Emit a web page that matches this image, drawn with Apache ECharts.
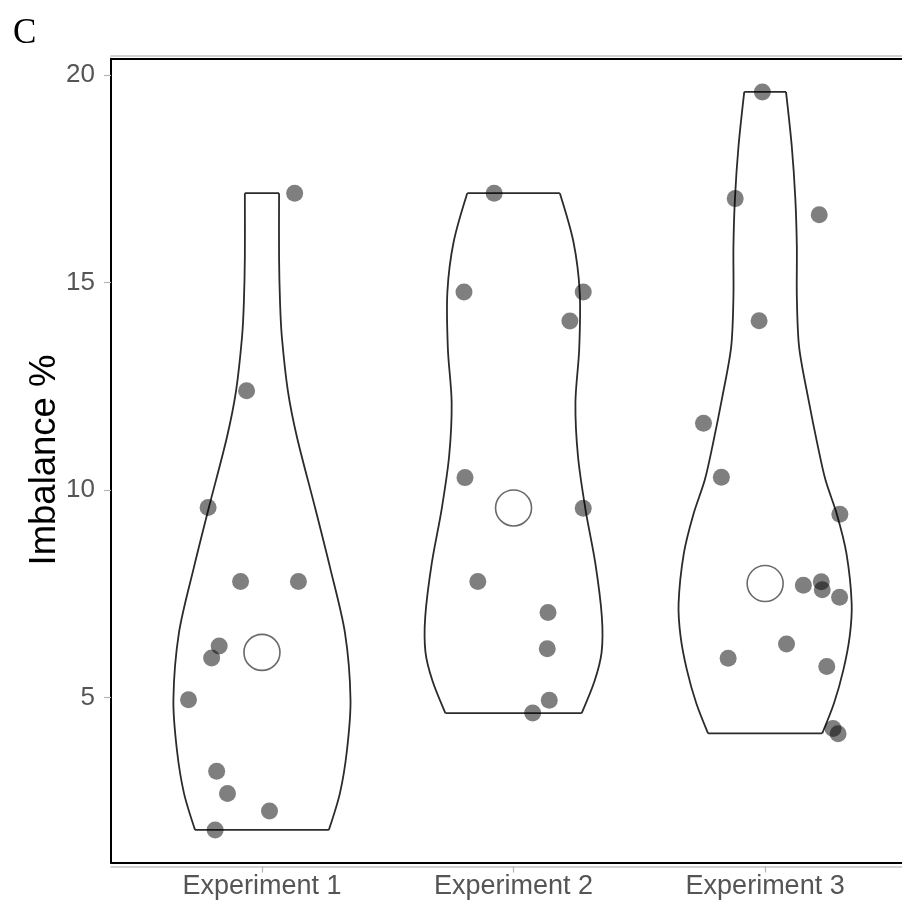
<!DOCTYPE html>
<html>
<head>
<meta charset="utf-8">
<script src="https://cdn.jsdelivr.net/npm/echarts@6/dist/echarts.min.js"></script>
<style>
  html, body { margin: 0; padding: 0; background: #ffffff; }
  #chart { width: 902px; height: 910px; }
</style>
</head>
<body>
<div id="chart"></div>
<script>
// ---------- data ----------
const categories = ['Experiment 1', 'Experiment 2', 'Experiment 3'];
const yTickValues = [5, 10, 15, 20];
const xTickValues = [1, 2, 3];
const yTitle = 'Imbalance %';
const panelTag = 'C';

// violin outlines: y levels and half-widths (x-axis units)
const violin1Levels = [1.815, 2.70, 3.74, 4.95, 6.56, 8.15, 9.58, 11.28, 12.39, 13.70, 14.50, 15.60, 17.15];
const violin1Half   = [0.266, 0.310, 0.338, 0.352, 0.330, 0.270, 0.211, 0.139, 0.103, 0.079, 0.072, 0.068, 0.068];

const violin2Levels = [4.63, 5.40, 6.09, 6.95, 8.24, 9.53, 10.82, 12.11, 13.40, 14.77, 15.98, 17.15];
const violin2Half   = [0.271, 0.322, 0.350, 0.351, 0.325, 0.286, 0.256, 0.246, 0.261, 0.263, 0.238, 0.184];

const violin3Levels = [4.14, 4.87, 5.67, 6.47, 7.27, 8.48, 9.42, 10.24, 11.04, 12.25, 13.45, 14.66, 15.86, 17.02, 18.27, 19.59];
const violin3Half   = [0.227, 0.274, 0.311, 0.336, 0.344, 0.323, 0.285, 0.240, 0.210, 0.170, 0.135, 0.126, 0.126, 0.120, 0.106, 0.083];

// jittered points: x position and value
const exp1X = [1.130, 0.939, 0.786, 0.915, 1.145, 0.830, 0.800, 0.708, 0.820, 0.863, 1.030, 0.814];
const exp1Y = [17.15, 12.39, 9.58, 7.80, 7.80, 6.245, 5.956, 4.95, 3.228, 2.69, 2.27, 1.815];

const exp2X = [1.923, 1.803, 2.277, 2.224, 1.807, 2.277, 1.858, 2.137, 2.134, 2.142, 2.076];
const exp2Y = [17.15, 14.77, 14.77, 14.07, 10.30, 9.56, 7.80, 7.05, 6.18, 4.94, 4.63];

const exp3X = [2.989, 2.881, 3.215, 2.976, 2.755, 2.826, 3.297, 3.152, 3.223, 3.227, 3.296, 3.085, 2.853, 3.245, 3.270, 3.290];
const exp3Y = [19.59, 17.02, 16.63, 14.08, 11.61, 10.31, 9.42, 7.71, 7.79, 7.60, 7.42, 6.29, 5.95, 5.75, 4.26, 4.13];

const medians = [6.09, 9.57, 7.75];

// ---------- build ----------
const violinLevels = [violin1Levels, violin2Levels, violin3Levels];
const violinHalf = [violin1Half, violin2Half, violin3Half];

function pts(xs, ys) { return xs.map((x, i) => [x, ys[i]]); }
const pointData = [].concat(pts(exp1X, exp1Y), pts(exp2X, exp2Y), pts(exp3X, exp3Y));
const medianData = medians.map((m, i) => [i + 1, m]);

const LINE = '#2b2b2b';
const X_MIN = 0.4, X_MAX = 3.544;
const FONT = '"Liberation Sans", Arial, sans-serif';

function renderViolin(params, api) {
  const idx = api.value(0);
  const center = idx + 1;
  const lv = violinLevels[idx];
  const hw = violinHalf[idx];
  const left = lv.map((y, i) => api.coord([center - hw[i], y]));
  const right = lv.map((y, i) => api.coord([center + hw[i], y]));
  const n = lv.length - 1;
  const st = { stroke: LINE, lineWidth: 1.8, fill: null };
  return {
    type: 'group',
    children: [
      { type: 'polyline', shape: { points: left, smooth: 0.3 }, style: st },
      { type: 'polyline', shape: { points: right, smooth: 0.3 }, style: st },
      { type: 'line', shape: { x1: left[0][0], y1: left[0][1], x2: right[0][0], y2: right[0][1] }, style: st },
      { type: 'line', shape: { x1: left[n][0], y1: left[n][1], x2: right[n][0], y2: right[n][1] }, style: st }
    ]
  };
}

function plainX(position, offset, color, width) {
  return {
    type: 'value', min: X_MIN, max: X_MAX, position: position, offset: offset,
    splitLine: { show: false },
    axisLine: { show: true, onZero: false, lineStyle: { color: color, width: width } },
    axisTick: { show: false }, axisLabel: { show: false }
  };
}

const chart = echarts.init(document.getElementById('chart'), null, { renderer: 'canvas' });
chart.setOption({
  animation: false,
  backgroundColor: '#ffffff',
  graphic: [
    { type: 'text', x: 13, y: 34, style: { text: panelTag, font: '35px "Liberation Serif"', fill: '#000', verticalAlign: 'middle' } },
    { type: 'text', x: 45, y: 460, rotation: Math.PI / 2,
      style: { text: yTitle, font: '36.5px "Liberation Sans", Arial, sans-serif', fill: '#000', align: 'center', verticalAlign: 'middle' } }
  ],
  grid: {
    left: 111, top: 58.7, width: 791, height: 803.8, show: false
  },
  xAxis: [
    plainX('bottom', 0, '#000000', 2),
    {
      type: 'value', min: X_MIN, max: X_MAX, position: 'bottom', offset: 4,
      splitLine: { show: false },
      axisLine: { show: true, onZero: false, lineStyle: { color: '#c4c4c4', width: 1.6 } },
      axisTick: { show: true, customValues: xTickValues, length: 6, lineStyle: { color: '#b5b5b5', width: 1.2 } },
      axisLabel: {
        customValues: xTickValues, margin: 7,
        formatter: v => categories[Math.round(v) - 1] || '',
        color: '#555555', fontSize: 27, fontFamily: FONT
      }
    },
    plainX('top', 0, '#000000', 2),
    plainX('top', 3, '#c4c4c4', 1.6)
  ],
  yAxis: {
    type: 'value', min: 1.03, max: 20.39,
    splitLine: { show: false },
    axisLine: { show: true, onZero: false, lineStyle: { color: '#000000', width: 2 } },
    axisTick: { show: true, customValues: yTickValues, length: 7, lineStyle: { color: '#b5b5b5', width: 1.2 } },
    axisLabel: {
      customValues: yTickValues, margin: 16,
      color: '#555555', fontSize: 26, fontFamily: FONT
    }
  },
  series: [
    {
      type: 'custom', name: 'violin', xAxisIndex: 0, z: 2,
      renderItem: renderViolin,
      data: [[0], [1], [2]],
      silent: true
    },
    {
      type: 'scatter', name: 'points', xAxisIndex: 0, z: 3,
      data: pointData, symbol: 'circle', symbolSize: 17,
      itemStyle: { color: '#000000', opacity: 0.5 },
      emphasis: { disabled: true }, silent: true
    },
    {
      type: 'scatter', name: 'median', xAxisIndex: 0, z: 4,
      data: medianData, symbol: 'circle', symbolSize: 36,
      itemStyle: { color: '#ffffff', borderColor: '#6a6a6a', borderWidth: 1.6, opacity: 1 },
      emphasis: { disabled: true }, silent: true
    }
  ]
});
</script>
</body>
</html>
